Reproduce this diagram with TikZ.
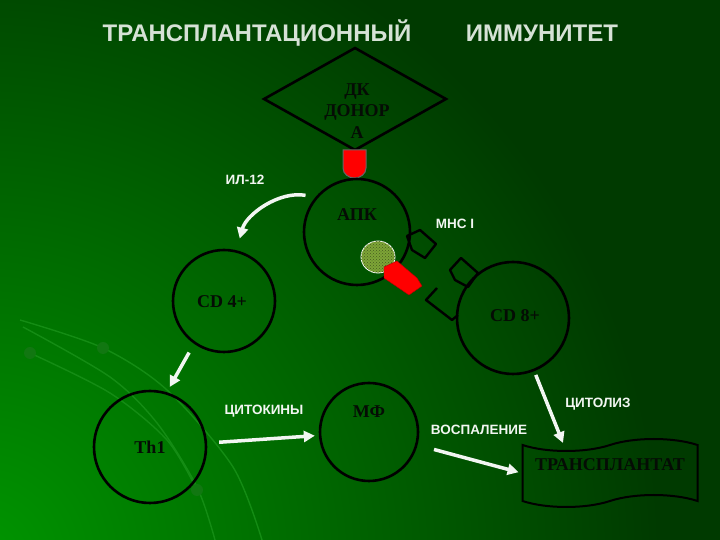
\documentclass[tikz,border=0pt]{standalone}
\usepackage{fontspec}
\setmainfont{Liberation Serif}
\setsansfont{Liberation Sans}
\usepackage{tikz}
\usetikzlibrary{arrows.meta, positioning, shapes.geometric, shapes.symbols, patterns}

\definecolor{slide}{RGB}{0,58,0}
\definecolor{glow}{RGB}{0,150,0}
\definecolor{streak}{RGB}{20,140,20}
\definecolor{ink}{RGB}{5,12,5}
\definecolor{chalk}{RGB}{242,246,242}
\definecolor{titlec}{RGB}{214,226,214}
\definecolor{olive}{RGB}{125,165,55}

\begin{document}
\begin{tikzpicture}[x=1pt,y=1pt,>={Triangle[length=11pt,width=11pt]},
        cell/.style={circle,draw=black,line width=2.6pt,inner sep=0pt},
        lbl/.style={font=\bfseries\fontsize{18}{21.5}\selectfont,text=ink,align=center},
        wlbl/.style={font=\sffamily\bfseries\fontsize{13.5}{16}\selectfont,text=chalk},
        head/.style={font=\sffamily\bfseries\fontsize{24}{28}\selectfont,text=titlec},
        arr/.style={->,draw=chalk,line width=3.5pt},
        receptor/.style={draw=black,line width=2.4pt,line join=round}]

        % background
        \fill[slide] (0,0) rectangle (720,540);
        \begin{scope}
            \clip (0,0) rectangle (720,540);
            \shade[inner color=glow,outer color=slide] (-20,-20) circle (680);
        \end{scope}
        \useasboundingbox (0,0) rectangle (720,540);
        \draw[streak,line width=1.4pt] plot[smooth] coordinates {(20,220) (103,192) (167,150) (233,73) (262,0)};
        \draw[streak,line width=1.4pt] plot[smooth] coordinates {(23,213) (110,163) (157,117) (197,53) (215,0)};
        \draw[streak,line width=1.4pt] plot[smooth] coordinates {(30,187) (110,147) (167,100) (197,50)};
        \foreach \p in {(103,192),(30,187),(197,50)}
            \fill[streak!85!black] \p circle (6);

        % title
        \node[head] (t1) at (257,507) {ТРАНСПЛАНТАЦИОННЫЙ};
        \node[head] (t2) at (542,507) {ИММУНИТЕТ};

        % donor cell
        \node[diamond,draw=black,line width=2.6pt,minimum width=183pt,minimum height=103pt,inner sep=0pt] (dk) at (355,441) {};
        \node[lbl] (dktx) at (357,429) {ДК\\ДОНОР\\А};
        \filldraw[fill=red,draw=black!60,line width=1pt] (343,390) -- (343,372) to[out=-90,in=180] (354.5,362)
            to[out=0,in=-90] (366,372) -- (366,390) -- cycle;

        % cells
        \node[cell,minimum size=106pt] (apc) at (357,308) {};
        \node[lbl] (apctx) at (357,325) {АПК};
        \node[cell,minimum size=112pt] (cd8) at (513,222) {};
        \node[lbl] (cd8tx) at (515,224) {CD 8+};
        \node[cell,minimum size=102pt] (cd4) at (224,239) {};
        \node[lbl] (cd4tx) at (222,238) {CD 4+};
        \node[cell,minimum size=112pt] (th1) at (150,93) {};
        \node[lbl] (th1tx) at (150,93) {Th1};
        \node[cell,minimum size=98pt] (mf) at (369,108) {};
        \node[lbl] (mftx) at (369,128) {МФ};
        \node[tape,draw=black,line width=2pt,minimum width=175pt,minimum height=68pt,tape bend height=12pt] (tx) at (610,67) {};
        \node[lbl] (txtx) at (610,75) {ТРАНСПЛАНТАТ};

        % MHC I and receptors
        \draw[receptor] (407,304) -- (420,310) -- (436,296) -- (425,282) -- (412,290) -- cycle;
        \draw[receptor] (450,270) -- (461,282) -- (478,267) -- (468,253) -- (455,260) -- cycle;
        \draw[receptor] (437,252) -- (426,240) -- (452,220) -- (458,225);
        \draw[white,line width=0.8pt,fill=olive,postaction={pattern=crosshatch dots,pattern color=olive!55!black}]
            (378,283) ellipse (17 and 16);
        \filldraw[fill=red,draw=red!70!black,line join=miter] (384,273) -- (397,279) -- (417,262) -- (422,254)
            -- (409,245) -- (384,262) -- cycle;

        % labels
        \node[wlbl] (il) at (245,360) {ИЛ-12};
        \node[wlbl] (mhc) at (455,316) {МНС I};
        \node[wlbl] (cyto) at (264,129) {ЦИТОКИНЫ};
        \node[wlbl] (infl) at (479,110) {ВОСПАЛЕНИЕ};
        \node[wlbl] (lys) at (598,136) {ЦИТОЛИЗ};

        % arrows
        \coordinate (cyt) at (563,97);
        \draw[arr,shorten <=10pt,shorten >=12pt] (apc.140) to[out=170,in=75] (cd4.76);
        \path (cd4.235) edge[arr,shorten <=10pt,shorten >=6pt] (th1.73)
              (th1) edge[arr,shorten <=12pt,shorten >=4pt] (mf)
              (mf) edge[arr,shorten <=17pt,shorten >=3pt] (tx.west)
              (cd8) edge[arr,shorten <=4pt] (cyt);
\end{tikzpicture}
\end{document}
